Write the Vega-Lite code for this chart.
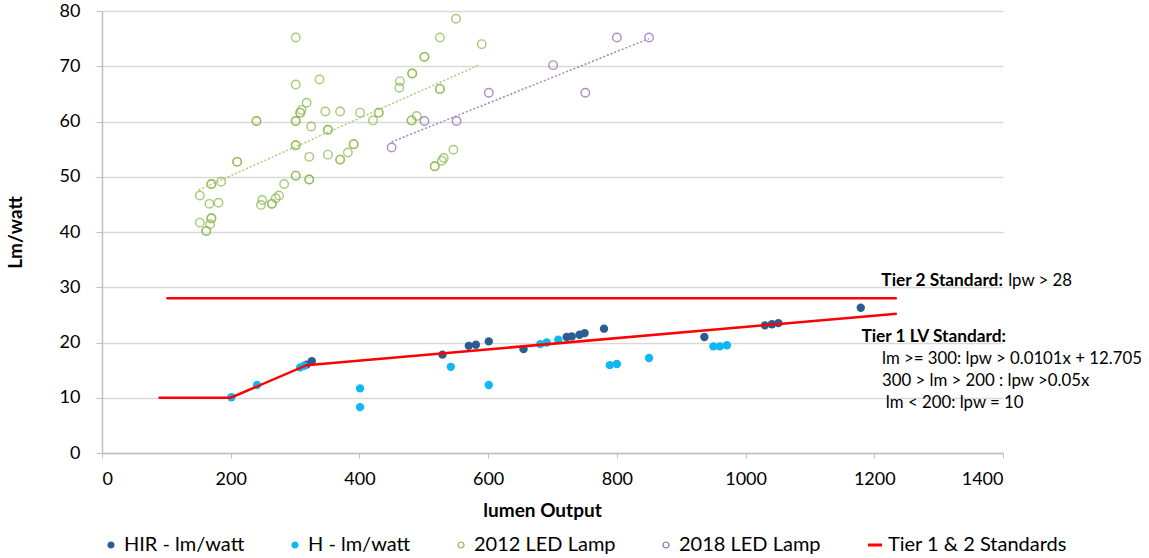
{
  "$schema": "https://vega.github.io/schema/vega-lite/v6.json",
  "width": 901,
  "height": 442,
  "autosize": {"type": "none"},
  "padding": {"left": 102, "top": 11, "right": 146, "bottom": 105},
  "background": "white",
  "config": {"font": "Lato", "view": {"stroke": null}},
  "datasets": {
    "led": [
      {"series": "2012 LED Lamp", "lumens": 301, "lpw": 75.2},
      {"series": "2012 LED Lamp", "lumens": 550, "lpw": 78.6},
      {"series": "2012 LED Lamp", "lumens": 525, "lpw": 75.2},
      {"series": "2012 LED Lamp", "lumens": 590, "lpw": 74.0},
      {"series": "2012 LED Lamp", "lumens": 501, "lpw": 71.7},
      {"series": "2012 LED Lamp", "lumens": 501, "lpw": 71.7},
      {"series": "2012 LED Lamp", "lumens": 482, "lpw": 68.7},
      {"series": "2012 LED Lamp", "lumens": 482, "lpw": 68.7},
      {"series": "2012 LED Lamp", "lumens": 463, "lpw": 67.3},
      {"series": "2012 LED Lamp", "lumens": 462, "lpw": 66.1},
      {"series": "2012 LED Lamp", "lumens": 525, "lpw": 65.9},
      {"series": "2012 LED Lamp", "lumens": 525, "lpw": 65.9},
      {"series": "2012 LED Lamp", "lumens": 301, "lpw": 66.7},
      {"series": "2012 LED Lamp", "lumens": 338, "lpw": 67.6},
      {"series": "2012 LED Lamp", "lumens": 318, "lpw": 63.4},
      {"series": "2012 LED Lamp", "lumens": 310, "lpw": 62.1},
      {"series": "2012 LED Lamp", "lumens": 308, "lpw": 61.6},
      {"series": "2012 LED Lamp", "lumens": 308, "lpw": 61.6},
      {"series": "2012 LED Lamp", "lumens": 347, "lpw": 61.8},
      {"series": "2012 LED Lamp", "lumens": 370, "lpw": 61.8},
      {"series": "2012 LED Lamp", "lumens": 401, "lpw": 61.6},
      {"series": "2012 LED Lamp", "lumens": 430, "lpw": 61.6},
      {"series": "2012 LED Lamp", "lumens": 430, "lpw": 61.6},
      {"series": "2012 LED Lamp", "lumens": 240, "lpw": 60.1},
      {"series": "2012 LED Lamp", "lumens": 240, "lpw": 60.1},
      {"series": "2012 LED Lamp", "lumens": 301, "lpw": 60.1},
      {"series": "2012 LED Lamp", "lumens": 301, "lpw": 60.1},
      {"series": "2012 LED Lamp", "lumens": 421, "lpw": 60.2},
      {"series": "2012 LED Lamp", "lumens": 481, "lpw": 60.2},
      {"series": "2012 LED Lamp", "lumens": 481, "lpw": 60.2},
      {"series": "2012 LED Lamp", "lumens": 489, "lpw": 61.0},
      {"series": "2012 LED Lamp", "lumens": 325, "lpw": 59.1},
      {"series": "2012 LED Lamp", "lumens": 351, "lpw": 58.5},
      {"series": "2012 LED Lamp", "lumens": 351, "lpw": 58.5},
      {"series": "2012 LED Lamp", "lumens": 301, "lpw": 55.7},
      {"series": "2012 LED Lamp", "lumens": 301, "lpw": 55.7},
      {"series": "2012 LED Lamp", "lumens": 391, "lpw": 55.9},
      {"series": "2012 LED Lamp", "lumens": 391, "lpw": 55.9},
      {"series": "2012 LED Lamp", "lumens": 382, "lpw": 54.4},
      {"series": "2012 LED Lamp", "lumens": 351, "lpw": 54.0},
      {"series": "2012 LED Lamp", "lumens": 322, "lpw": 53.6},
      {"series": "2012 LED Lamp", "lumens": 370, "lpw": 53.1},
      {"series": "2012 LED Lamp", "lumens": 370, "lpw": 53.1},
      {"series": "2012 LED Lamp", "lumens": 546, "lpw": 54.9},
      {"series": "2012 LED Lamp", "lumens": 531, "lpw": 53.4},
      {"series": "2012 LED Lamp", "lumens": 528, "lpw": 52.9},
      {"series": "2012 LED Lamp", "lumens": 517, "lpw": 51.9},
      {"series": "2012 LED Lamp", "lumens": 517, "lpw": 51.9},
      {"series": "2012 LED Lamp", "lumens": 210, "lpw": 52.7},
      {"series": "2012 LED Lamp", "lumens": 210, "lpw": 52.7},
      {"series": "2012 LED Lamp", "lumens": 301, "lpw": 50.2},
      {"series": "2012 LED Lamp", "lumens": 301, "lpw": 50.2},
      {"series": "2012 LED Lamp", "lumens": 322, "lpw": 49.5},
      {"series": "2012 LED Lamp", "lumens": 322, "lpw": 49.5},
      {"series": "2012 LED Lamp", "lumens": 170, "lpw": 48.7},
      {"series": "2012 LED Lamp", "lumens": 170, "lpw": 48.7},
      {"series": "2012 LED Lamp", "lumens": 185, "lpw": 49.1},
      {"series": "2012 LED Lamp", "lumens": 283, "lpw": 48.7},
      {"series": "2012 LED Lamp", "lumens": 275, "lpw": 46.6},
      {"series": "2012 LED Lamp", "lumens": 270, "lpw": 46.1},
      {"series": "2012 LED Lamp", "lumens": 264, "lpw": 45.1},
      {"series": "2012 LED Lamp", "lumens": 264, "lpw": 45.1},
      {"series": "2012 LED Lamp", "lumens": 249, "lpw": 45.8},
      {"series": "2012 LED Lamp", "lumens": 247, "lpw": 44.9},
      {"series": "2012 LED Lamp", "lumens": 152, "lpw": 46.6},
      {"series": "2012 LED Lamp", "lumens": 167, "lpw": 45.1},
      {"series": "2012 LED Lamp", "lumens": 181, "lpw": 45.3},
      {"series": "2012 LED Lamp", "lumens": 170, "lpw": 42.5},
      {"series": "2012 LED Lamp", "lumens": 170, "lpw": 42.5},
      {"series": "2012 LED Lamp", "lumens": 152, "lpw": 41.7},
      {"series": "2012 LED Lamp", "lumens": 168, "lpw": 41.4},
      {"series": "2012 LED Lamp", "lumens": 162, "lpw": 40.2},
      {"series": "2012 LED Lamp", "lumens": 162, "lpw": 40.2},
      {"series": "2018 LED Lamp", "lumens": 450, "lpw": 55.3},
      {"series": "2018 LED Lamp", "lumens": 501, "lpw": 60.1},
      {"series": "2018 LED Lamp", "lumens": 551, "lpw": 60.1},
      {"series": "2018 LED Lamp", "lumens": 601, "lpw": 65.2},
      {"series": "2018 LED Lamp", "lumens": 701, "lpw": 70.2},
      {"series": "2018 LED Lamp", "lumens": 751, "lpw": 65.2},
      {"series": "2018 LED Lamp", "lumens": 800, "lpw": 75.2},
      {"series": "2018 LED Lamp", "lumens": 850, "lpw": 75.2}
    ],
    "trend": [
      {"series": "2012 LED Lamp", "lumens": 150, "lpw": 47.6},
      {"series": "2012 LED Lamp", "lumens": 587, "lpw": 70.3},
      {"series": "2018 LED Lamp", "lumens": 450, "lpw": 56.3},
      {"series": "2018 LED Lamp", "lumens": 850, "lpw": 75.0}
    ],
    "incand": [
      {"series": "HIR - lm/watt", "lumens": 318, "lpw": 16.0},
      {"series": "HIR - lm/watt", "lumens": 326, "lpw": 16.6},
      {"series": "HIR - lm/watt", "lumens": 529, "lpw": 17.8},
      {"series": "HIR - lm/watt", "lumens": 570, "lpw": 19.4},
      {"series": "HIR - lm/watt", "lumens": 581, "lpw": 19.6},
      {"series": "HIR - lm/watt", "lumens": 601, "lpw": 20.2},
      {"series": "HIR - lm/watt", "lumens": 655, "lpw": 18.8},
      {"series": "HIR - lm/watt", "lumens": 722, "lpw": 21.0},
      {"series": "HIR - lm/watt", "lumens": 730, "lpw": 21.1},
      {"series": "HIR - lm/watt", "lumens": 742, "lpw": 21.4},
      {"series": "HIR - lm/watt", "lumens": 750, "lpw": 21.7},
      {"series": "HIR - lm/watt", "lumens": 780, "lpw": 22.5},
      {"series": "HIR - lm/watt", "lumens": 936, "lpw": 21.0},
      {"series": "HIR - lm/watt", "lumens": 1030, "lpw": 23.1},
      {"series": "HIR - lm/watt", "lumens": 1041, "lpw": 23.3},
      {"series": "HIR - lm/watt", "lumens": 1051, "lpw": 23.5},
      {"series": "HIR - lm/watt", "lumens": 1179, "lpw": 26.3},
      {"series": "H - lm/watt", "lumens": 201, "lpw": 10.1},
      {"series": "H - lm/watt", "lumens": 241, "lpw": 12.3},
      {"series": "H - lm/watt", "lumens": 308, "lpw": 15.5},
      {"series": "H - lm/watt", "lumens": 314, "lpw": 15.8},
      {"series": "H - lm/watt", "lumens": 401, "lpw": 11.7},
      {"series": "H - lm/watt", "lumens": 401, "lpw": 8.3},
      {"series": "H - lm/watt", "lumens": 542, "lpw": 15.6},
      {"series": "H - lm/watt", "lumens": 601, "lpw": 12.3},
      {"series": "H - lm/watt", "lumens": 681, "lpw": 19.7},
      {"series": "H - lm/watt", "lumens": 691, "lpw": 20.0},
      {"series": "H - lm/watt", "lumens": 709, "lpw": 20.5},
      {"series": "H - lm/watt", "lumens": 789, "lpw": 15.9},
      {"series": "H - lm/watt", "lumens": 800, "lpw": 16.1},
      {"series": "H - lm/watt", "lumens": 850, "lpw": 17.2},
      {"series": "H - lm/watt", "lumens": 950, "lpw": 19.3},
      {"series": "H - lm/watt", "lumens": 960, "lpw": 19.3},
      {"series": "H - lm/watt", "lumens": 971, "lpw": 19.5}
    ],
    "std": [
      {"series": "Tier 1 & 2 Standards", "segment": "Tier 1", "lumens": 88, "lpw": 10},
      {"series": "Tier 1 & 2 Standards", "segment": "Tier 1", "lumens": 200, "lpw": 10},
      {"series": "Tier 1 & 2 Standards", "segment": "Tier 1", "lumens": 318, "lpw": 15.9},
      {"series": "Tier 1 & 2 Standards", "segment": "Tier 1", "lumens": 1235, "lpw": 25.2},
      {"series": "Tier 1 & 2 Standards", "segment": "Tier 2", "lumens": 100, "lpw": 28},
      {"series": "Tier 1 & 2 Standards", "segment": "Tier 2", "lumens": 1235, "lpw": 28}
    ],
    "boldnotes": [
      {"label": "Tier 2 Standard:", "lumens": 1211, "lpw": 30.25},
      {"label": "Tier 1 LV Standard:", "lumens": 1180, "lpw": 20.05}
    ],
    "notes": [
      {"label": "lpw > 28", "lumens": 1408, "lpw": 30.25},
      {"label": "lm >= 300: lpw >  0.0101x + 12.705", "lumens": 1212, "lpw": 16.07},
      {"label": "300 > lm > 200 : lpw >0.05x", "lumens": 1212, "lpw": 12.14},
      {"label": "lm < 200: lpw = 10", "lumens": 1218, "lpw": 8.1}
    ]
  },
  "encoding": {
    "x": {
      "field": "lumens",
      "type": "quantitative",
      "scale": {"domain": [0, 1400], "nice": false},
      "axis": {
        "values": [0, 200, 400, 600, 800, 1000, 1200, 1400],
        "format": "d",
        "grid": false,
        "domainColor": "#BFBFBF",
        "domainWidth": 1.5,
        "tickColor": "#BFBFBF",
        "tickSize": 5,
        "labelFontSize": 18,
        "labelColor": "#000000",
        "labelPadding": 12,
        "title": "lumen Output",
        "titleFontSize": 19,
        "titleFontWeight": "bold",
        "titleColor": "#000000",
        "titleX": 440,
        "titleY": 57,
        "titleBaseline": "middle"
      }
    },
    "y": {
      "field": "lpw",
      "type": "quantitative",
      "scale": {"domain": [0, 80], "nice": false},
      "axis": {
        "values": [0, 10, 20, 30, 40, 50, 60, 70, 80],
        "grid": true,
        "gridColor": "#D9D9D9",
        "gridWidth": 1.5,
        "domainColor": "#BFBFBF",
        "domainWidth": 1.5,
        "tickColor": "#BFBFBF",
        "tickSize": 6,
        "labelFontSize": 18,
        "labelColor": "#000000",
        "labelPadding": 16,
        "title": "Lm/watt",
        "titleFontSize": 19,
        "titleFontWeight": "bold",
        "titleColor": "#000000",
        "titleAngle": -90,
        "titleAlign": "center",
        "titleBaseline": "middle",
        "titleX": -87,
        "titleY": 221
      }
    },
    "color": {
      "field": "series",
      "type": "nominal",
      "scale": {
        "domain": ["HIR - lm/watt", "H - lm/watt", "2012 LED Lamp", "2018 LED Lamp", "Tier 1 & 2 Standards"],
        "range": ["#2A5E93", "#0FB8F0", "#8DB84F", "#8E6BB5", "#FF0000"]
      },
      "legend": {
        "orient": "none",
        "legendX": -1,
        "legendY": 524,
        "direction": "horizontal",
        "title": null,
        "labelFontSize": 20,
        "labelFont": "Lato",
        "labelColor": "#000000",
        "labelLimit": 400,
        "symbolSize": 100,
        "labelOffset": 3,
        "columnPadding": 40,
        "encode": {
          "symbols": {
            "update": {
              "shape": {"signal": "datum.value === 'Tier 1 & 2 Standards' ? 'stroke' : 'circle'"},
              "size": {"signal": "datum.value === 'Tier 1 & 2 Standards' ? 200 : 36"},
              "fill": {"signal": "(datum.value === 'HIR - lm/watt' || datum.value === 'H - lm/watt') ? scale('color', datum.value) : 'transparent'"},
              "fillOpacity": {"signal": "(datum.value === 'HIR - lm/watt' || datum.value === 'H - lm/watt') ? 1 : 0"},
              "stroke": {"signal": "scale('color', datum.value)"},
              "strokeOpacity": {"value": 1},
              "strokeWidth": {"signal": "datum.value === 'Tier 1 & 2 Standards' ? 3 : 1.2"},
              "opacity": {"value": 1}
            }
          }
        }
      }
    }
  },
  "layer": [
    {
      "data": {"name": "led"},
      "mark": {"type": "point", "filled": false, "strokeWidth": 1.4, "size": 72, "opacity": 0.75}
    },
    {
      "data": {"name": "trend"},
      "transform": [{"filter": "datum.series === '2012 LED Lamp'"}],
      "mark": {"type": "line", "strokeWidth": 1.5, "strokeDash": [2, 2]},
      "encoding": {"color": {"value": "#A9CF7A"}}
    },
    {
      "data": {"name": "trend"},
      "transform": [{"filter": "datum.series === '2018 LED Lamp'"}],
      "mark": {"type": "line", "strokeWidth": 1.5, "strokeDash": [2, 2]},
      "encoding": {"color": {"value": "#A484C8"}}
    },
    {
      "data": {"name": "incand"},
      "mark": {"type": "circle", "size": 70, "opacity": 1}
    },
    {
      "data": {"name": "std"},
      "mark": {"type": "line", "strokeWidth": 2.5},
      "encoding": {
        "detail": {"field": "segment", "type": "nominal"}
      }
    },
    {
      "data": {"name": "boldnotes"},
      "mark": {"type": "text", "align": "left", "baseline": "alphabetic", "fontSize": 17.3, "fontWeight": "bold"},
      "encoding": {"text": {"field": "label"}, "color": {"value": "#000000"}}
    },
    {
      "data": {"name": "notes"},
      "mark": {"type": "text", "align": "left", "baseline": "alphabetic", "fontSize": 16.8},
      "encoding": {"text": {"field": "label"}, "color": {"value": "#000000"}}
    }
  ]
}
